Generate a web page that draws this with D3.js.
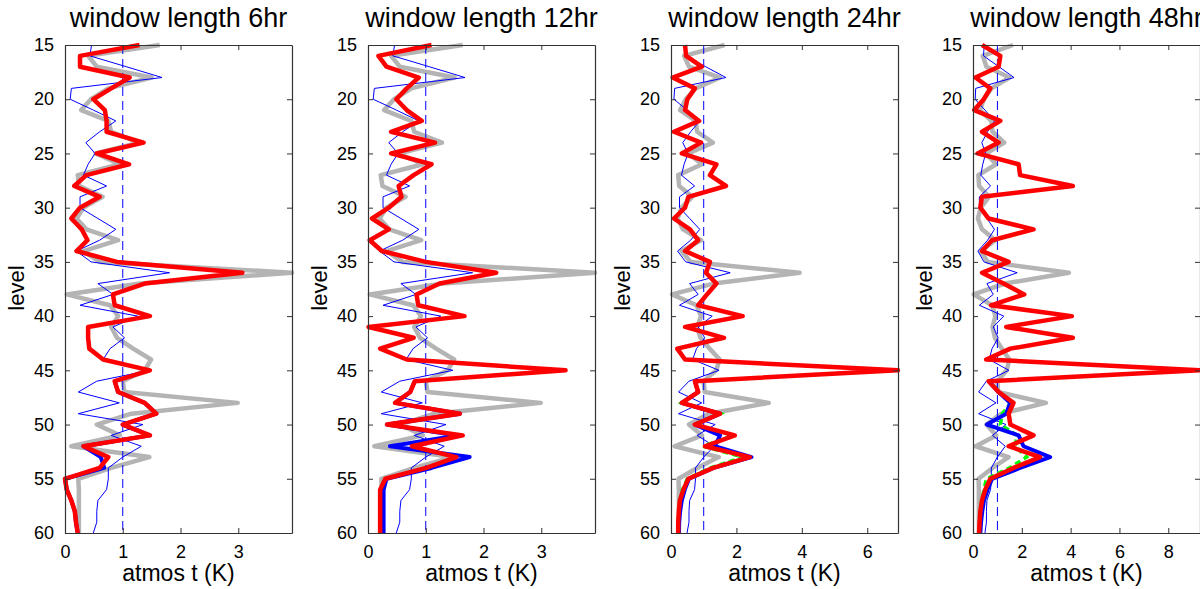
<!DOCTYPE html>
<html>
<head>
<meta charset="utf-8">
<script src="https://cdn.jsdelivr.net/npm/d3@7"></script>
<style>
  body { margin: 0; background: #fff; }
  text { font-family: "Liberation Sans", Arial, sans-serif; fill: #000; }
</style>
</head>
<body>
<script>

// model levels (y axis)
const levels = [15, 16, 17, 18, 19, 20, 21, 22, 23, 24, 25, 26, 27, 28, 29,
                30, 31, 32, 33, 34, 35, 36, 37, 38, 39, 40, 41, 42, 43, 44,
                45, 46, 47, 48, 49, 50, 51, 52, 53, 54, 55, 56, 57, 58, 59, 60];

// lower levels where the extra (blue thick / green) runs split from red
const lowLevels = [46, 47, 48, 49, 50, 51, 52, 53, 54, 55, 56, 57, 58, 59, 60];

const titles = ["window length 6hr", "window length 12hr", "window length 24hr", "window length 48hr"];

// common to all panels
const grayVals = [1.64, 0.4, 0.55, 1.5, 0.75,  0.45, 0.28, 0.75, 0.8, 1.28,
                  0.53, 0.95, 0.22, 0.25, 0.65,  0.32, 0.2, 0.37, 0.92, 0.32,
                  0.6, 3.93, 1.3, 0.03, 0.78,  0.92, 0.8, 0.9, 1.18, 1.49,
                  1.38, 1.0, 1.03, 2.99, 1.15,  0.55, 0.95, 0.11, 1.46, 0.8,
                  0.23, 0.24, 0.24, 0.24, 0.24,  0.24];

const blueThinVals = [0.46, 0.43, 1.06, 1.68, 0.11,  0.09, 0.49, 0.88, 0.6, 0.36,
                      0.52, 0.4, 0.32, 0.72, 0.26,  0.26, 0.57, 0.88, 0.6, 0.2,
                      0.45, 1.81, 0.57, 0.83, 0.26,  1.26, 0.83, 1.03, 0.78, 0.66,
                      1.47, 0.55, 0.23, 0.94, 0.23,  1.35, 0.8, 1.32, 1.0, 0.75,
                      0.75, 0.72, 0.57, 0.55, 0.55,  0.49];

// red, one per window length
const red6 = [1.29, 0.26, 0.26, 1.12, 0.8,  0.49, 0.69, 0.72, 0.72, 1.36,
              0.55, 1.11, 0.37, 0.16, 0.6,  0.26, 0.11, 0.29, 0.39, 0.2,
              0.9, 3.07, 1.38, 0.83, 0.86,  1.47, 0.4, 0.4, 0.42, 0.66,
              1.47, 0.86, 0.92, 1.38, 1.58,  1.0, 1.47, 0.32, 0.75, 0.6,
              0.0, 0.03, 0.11, 0.17, 0.19,  0.22];
const red12 = [1.1, 0.18, 0.32, 0.88, 0.67,  0.49, 0.67, 0.93, 0.4, 1.16,
               0.4, 1.1, 0.79, 0.53, 0.58,  0.36, 0.07, 0.36, 0.03, 0.24,
               1.0, 2.22, 1.24, 0.84, 0.87,  1.67, 0.01, 0.79, 0.21, 0.67,
               3.42, 0.81, 0.73, 0.47, 1.59,  0.33, 1.64, 0.76, 1.53, 1.01,
               0.3, 0.21, 0.21, 0.21, 0.21,  0.21];
const red24 = [0.43, 0.46, 0.94, 0.05, 0.73,  0.5, 0.43, 0.86, 0.09, 0.92,
               0.33, 1.39, 1.19, 1.68, 0.53,  0.43, 0.09, 0.58, 0.83, 0.43,
               1.19, 1.07, 1.39, 1.1, 0.83,  2.19, 0.43, 1.62, 0.19, 0.43,
               6.94, 0.73, 0.83, 0.33, 1.5,  0.73, 1.95, 1.04, 2.41, 1.29,
               0.53, 0.38, 0.27, 0.24, 0.22,  0.22];
const red48 = [0.37, 1.12, 1.05, 0.1, 0.71,  0.44, 0.05, 1.12, 0.37, 1.05,
               0.19, 1.87, 1.93, 4.09, 0.37,  0.3, 0.64, 2.48, 0.78, 0.37,
               1.46, 0.37, 1.25, 2.1, 0.74,  4.05, 1.36, 4.09, 1.53, 0.54,
               9.3, 0.64, 1.05, 1.66, 1.46,  1.53, 2.48, 1.46, 2.75, 1.66,
               0.71, 0.5, 0.37, 0.3, 0.27,  0.25];

// blue thick, lower levels only (above it lies under red)
const blueThick6 = [0.86, 0.92, 1.38, 1.58, 1.0, 1.47, 0.32, 0.62, 0.68, 0.0, 0.03, 0.11, 0.17, 0.19, 0.22];
const blueThick12 = [0.81, 0.73, 0.47, 1.59, 0.33, 1.55, 0.38, 1.76, 1.1, 0.32, 0.27, 0.27, 0.27, 0.27, 0.27];
const blueThick24 = [0.73, 0.83, 0.33, 1.5, 0.73, 1.5, 1.34, 2.46, 1.3, 0.55, 0.42, 0.33, 0.28, 0.25, 0.24];
const blueThick48 = [0.64, 1.05, 1.52, 1.36, 0.57, 1.87, 2.07, 3.16, 1.93, 0.78, 0.6, 0.45, 0.38, 0.33, 0.3];

// green dashed, lower levels only
const green24 = [0.73, 0.83, 0.33, 1.5, 0.73, 1.9, 0.98, 2.2, 1.2, 0.5, 0.35, 0.27, 0.24, 0.22, 0.22];
const green48 = [0.64, 1.05, 1.55, 1.2, 1.12, 1.8, 1.73, 2.2, 1.5, 0.55, 0.45, 0.35, 0.3, 0.27, 0.25];

const xTickVals = [[0, 1, 2, 3], [0, 1, 2, 3], [0, 2, 4, 6], [0, 2, 4, 6, 8]];
const yTickVals = [15, 20, 25, 30, 35, 40, 45, 50, 55, 60];
const refLine = 1;

const panels = [
    {title: titles[0], red: red6,  thick: blueThick6,  green: null,    ticks: xTickVals[0]},
    {title: titles[1], red: red12, thick: blueThick12, green: null,    ticks: xTickVals[1]},
    {title: titles[2], red: red24, thick: blueThick24, green: green24, ticks: xTickVals[2]},
    {title: titles[3], red: red48, thick: blueThick48, green: green48, ticks: xTickVals[3]}
];

const W = 1200, H = 589;
const lefts = [65, 368, 671, 973];
const pw = 227, plotTop = 45, plotBottom = 533;

const svg = d3.select("body")
    .append("svg")
    .attr("width", W)
    .attr("height", H);

const y = d3.scaleLinear().domain([15, 60]).range([plotTop, plotBottom]);

panels.forEach(function (p, i) {
    const x0 = lefts[i];
    const xMax = d3.max([d3.max(grayVals), d3.max(blueThinVals), d3.max(p.red), d3.max(p.thick)]);
    const x = d3.scaleLinear().domain([0, xMax]).range([x0, x0 + pw]);

    const g = svg.append("g").attr("class", "panel-" + i);

    const full = vals => levels.map((l, k) => ({l: l, v: vals[k]}));
    const low = vals => lowLevels.map((l, k) => ({l: l, v: vals[k]}));

    const line = d3.line()
        .x(d => x(d.v))
        .y(d => y(d.l));

    g.append("path")
        .attr("fill", "none")
        .attr("stroke", "#b4b4b4")
        .attr("stroke-width", 4.5)
        .attr("stroke-linejoin", "round")
        .attr("d", line(full(grayVals)));

    g.append("path")
        .attr("fill", "none")
        .attr("stroke", "#0000ff")
        .attr("stroke-width", 1)
        .attr("d", line(full(blueThinVals)));

    g.append("line")
        .attr("x1", x(refLine)).attr("x2", x(refLine))
        .attr("y1", plotTop).attr("y2", plotBottom)
        .attr("stroke", "#0000ff")
        .attr("stroke-width", 1)
        .attr("stroke-dasharray", "9,5");

    if (p.green) {
        g.append("path")
            .attr("fill", "none")
            .attr("stroke", "#00ff00")
            .attr("stroke-width", 3.5)
            .attr("stroke-dasharray", "6,4")
            .attr("d", line(low(p.green)));
    }

    g.append("path")
        .attr("fill", "none")
        .attr("stroke", "#0000ff")
        .attr("stroke-width", 4)
        .attr("stroke-linejoin", "round")
        .attr("d", line(low(p.thick)));

    g.append("path")
        .attr("fill", "none")
        .attr("stroke", "#ff0000")
        .attr("stroke-width", 4.5)
        .attr("stroke-linejoin", "round")
        .attr("d", line(full(p.red)));

    // axes, ticks pointing inward on all four sides
    const axB = g.append("g")
        .attr("transform", `translate(0,${plotBottom})`)
        .call(d3.axisBottom(x).tickValues(p.ticks).tickFormat(d3.format("d"))
            .tickSizeInner(-5).tickSizeOuter(0).tickPadding(12));
    const axT = g.append("g")
        .attr("transform", `translate(0,${plotTop})`)
        .call(d3.axisTop(x).tickValues(p.ticks).tickSizeInner(-5).tickSizeOuter(0).tickFormat(""));
    const axL = g.append("g")
        .attr("transform", `translate(${x0},0)`)
        .call(d3.axisLeft(y).tickValues(yTickVals).tickSizeInner(-5).tickSizeOuter(0).tickPadding(11));
    const axR = g.append("g")
        .attr("transform", `translate(${x0 + pw},0)`)
        .call(d3.axisRight(y).tickValues(yTickVals).tickSizeInner(-5).tickSizeOuter(0).tickFormat(""));

    [axB, axT, axL, axR].forEach(function (a) {
        a.select(".domain").attr("stroke", "#333").attr("stroke-width", 1.2);
        a.selectAll(".tick line").attr("stroke", "#333");
        a.selectAll("text").style("font-size", "18px").attr("fill", "#000");
    });

    g.append("text")
        .attr("x", x0 + pw / 2)
        .attr("y", 27)
        .attr("text-anchor", "middle")
        .style("font-size", "27px")
        .text(p.title);

    g.append("text")
        .attr("x", x0 + pw / 2)
        .attr("y", 581)
        .attr("text-anchor", "middle")
        .style("font-size", "23px")
        .text("atmos t (K)");

    g.append("text")
        .attr("transform", `translate(${x0 - 41},${(plotTop + plotBottom) / 2 - 1}) rotate(-90)`)
        .attr("text-anchor", "middle")
        .style("font-size", "22px")
        .text("level");
});

</script>
</body>
</html>
